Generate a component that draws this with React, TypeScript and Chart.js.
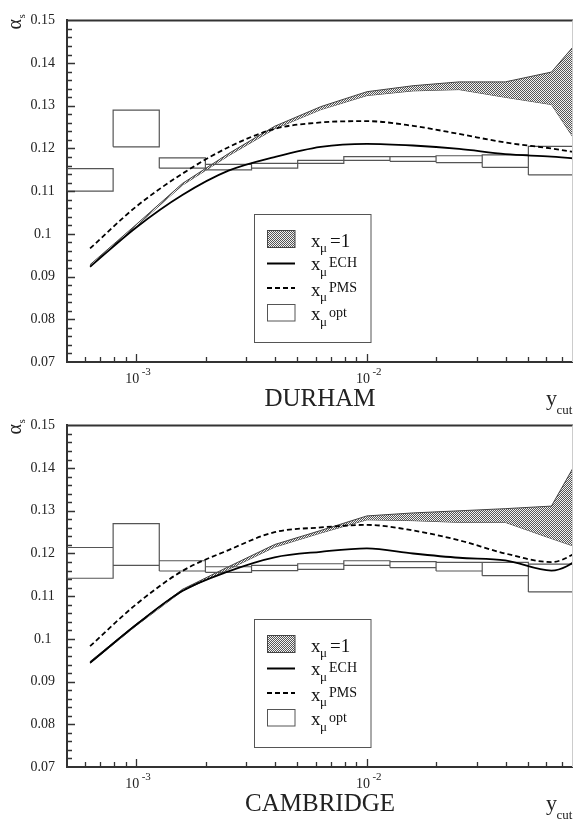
import React, { useEffect, useRef } from 'react';
import { Chart, registerables } from 'chart.js';

Chart.register(...registerables);

const FONT = '"Liberation Serif", "Times New Roman", Times, serif';

// y_cut sample points (10^-3.2 ... 10^-1.0)
const yCut = [6.31e-4, 1.0e-3, 1.585e-3, 2.512e-3, 3.981e-3, 6.31e-3, 1.0e-2, 1.585e-2, 2.512e-2, 3.981e-2, 6.31e-2, 1.0e-1];
// x_mu^opt bin edges
const optEdges = [5.012e-4, 7.943e-4, 1.259e-3, 1.995e-3, 3.162e-3, 5.012e-3, 7.943e-3, 1.259e-2, 1.995e-2, 3.162e-2, 5.012e-2, 7.943e-2];
// x-axis decade labels (exponents)
const xLabelExponents = [-3, -2];
const yMin = 0.07;
const yMax = 0.15;

// DURHAM
const durBandHigh = [0.0928, 0.1022, 0.1118, 0.1188, 0.1252, 0.1298, 0.1333, 0.1347, 0.1356, 0.1356, 0.1379, 0.1505];
const durBandLow = [0.0924, 0.1018, 0.1114, 0.1183, 0.1246, 0.1291, 0.1324, 0.1335, 0.1338, 0.1320, 0.1303, 0.1139];
const durECH = [0.0923, 0.1015, 0.1091, 0.1148, 0.1180, 0.1204, 0.1211, 0.1207, 0.1199, 0.1187, 0.1181, 0.1172];
const durPMS = [0.0966, 0.1064, 0.1141, 0.1203, 0.1246, 0.1261, 0.1264, 0.1253, 0.1234, 0.1214, 0.1200, 0.1183];
const durOptHigh = [0.1153, 0.1290, 0.1178, 0.1163, 0.1165, 0.1172, 0.1181, 0.1181, 0.1183, 0.1185, 0.1205];
const durOptLow = [0.1100, 0.1204, 0.1154, 0.1150, 0.1154, 0.1165, 0.1172, 0.1170, 0.1167, 0.1156, 0.1138];

// CAMBRIDGE
const camBandHigh = [0.0947, 0.1035, 0.1116, 0.1169, 0.1221, 0.1254, 0.1288, 0.1295, 0.1300, 0.1305, 0.1311, 0.1502];
const camBandLow = [0.0943, 0.1031, 0.1112, 0.1163, 0.1215, 0.1248, 0.1279, 0.1277, 0.1273, 0.1273, 0.1235, 0.1198];
const camECH = [0.0944, 0.1033, 0.1112, 0.1158, 0.1191, 0.1204, 0.1212, 0.1200, 0.1190, 0.1184, 0.1160, 0.1215];
const camPMS = [0.0983, 0.1081, 0.1159, 0.1208, 0.1250, 0.1261, 0.1267, 0.1254, 0.1231, 0.1200, 0.1180, 0.1235];
const camOptHigh = [0.1214, 0.1270, 0.1183, 0.1169, 0.1172, 0.1176, 0.1183, 0.1181, 0.1179, 0.1179, 0.1175];
const camOptLow = [0.1142, 0.1172, 0.1159, 0.1156, 0.1160, 0.1163, 0.1172, 0.1167, 0.1159, 0.1148, 0.1110];

const W = 576;
const H = 415;

type PanelProps = {
  name: string;
  top: number;
  bandHigh: number[];
  bandLow: number[];
  ech: number[];
  pms: number[];
  optHigh: number[];
  optLow: number[];
};

function pts(arr: number[]) {
  return yCut.map((x, i) => ({ x, y: arr[i] }));
}

function boxPoints(high: number[], low: number[]) {
  const out: any[] = [];
  for (let i = 0; i < high.length; i++) {
    const a = optEdges[i];
    const b = optEdges[i + 1];
    out.push({ x: a, y: low[i] }, { x: a, y: high[i] }, { x: b, y: high[i] }, { x: b, y: low[i] }, { x: a, y: low[i] }, { x: a, y: null });
  }
  return out;
}

function makePattern(ctx: CanvasRenderingContext2D) {
  const c = document.createElement('canvas');
  c.width = 2;
  c.height = 2;
  const g = c.getContext('2d')!;
  g.fillStyle = '#f2f2f2';
  g.fillRect(0, 0, 2, 2);
  g.fillStyle = '#555';
  g.fillRect(0, 0, 1, 1);
  g.fillRect(1, 1, 1, 1);
  return ctx.createPattern(c, 'repeat')!;
}

function makeDeco(name: string, pattern: CanvasPattern) {
  return {
    id: 'deco',
    afterDraw(chart: any) {
      const { ctx, chartArea: ca } = chart;
      const xs = chart.scales.x;
      const ys = chart.scales.y;
      ctx.save();
      // top frame line
      ctx.strokeStyle = '#333';
      ctx.lineWidth = 2;
      ctx.beginPath();
      ctx.moveTo(ca.left - 1, ca.top);
      ctx.lineTo(W, ca.top);
      ctx.stroke();
      // faint right edge
      ctx.strokeStyle = '#cccccc';
      ctx.lineWidth = 1;
      ctx.beginPath();
      ctx.moveTo(572.5, ca.top);
      ctx.lineTo(572.5, ca.bottom);
      ctx.stroke();
      // inward ticks
      ctx.strokeStyle = '#333';
      ctx.lineWidth = 1.3;
      ctx.beginPath();
      for (let k = 1; k < 40; k++) {
        const v = yMin + k * 0.002;
        const py = Math.round(ys.getPixelForValue(v)) + 0.5;
        const len = k % 5 === 0 ? 8 : 5;
        ctx.moveTo(ca.left, py);
        ctx.lineTo(ca.left + len, py);
      }
      for (let e = -4; e <= -1; e++) {
        for (let m = 1; m <= 9; m++) {
          const v = m * Math.pow(10, e);
          if (v <= xs.min * 1.001 || v >= xs.max) continue;
          const px = Math.round(xs.getPixelForValue(v)) + 0.5;
          const len = m === 1 ? 8 : 5;
          ctx.moveTo(px, ca.bottom);
          ctx.lineTo(px, ca.bottom - len);
        }
      }
      ctx.stroke();

      ctx.fillStyle = '#222';
      ctx.textAlign = 'left';
      ctx.textBaseline = 'alphabetic';
      // x labels 10^e
      for (const e of xLabelExponents) {
        const px = xs.getPixelForValue(Math.pow(10, e));
        ctx.font = `14px ${FONT}`;
        ctx.fillText('10', px - 11, 383);
        ctx.font = `11px ${FONT}`;
        ctx.fillText(String(e), px + 5.5, 375);
      }
      // y title alpha_s (rotated)
      ctx.save();
      ctx.translate(20.7, 29.5);
      ctx.rotate(-Math.PI / 2);
      ctx.font = `20px ${FONT}`;
      ctx.fillText('α', 0, 0);
      const aw = ctx.measureText('α').width;
      ctx.font = `11px ${FONT}`;
      ctx.fillText('s', aw + 0.5, 4.3);
      ctx.restore();
      // panel name
      ctx.font = `25px ${FONT}`;
      ctx.textAlign = 'center';
      ctx.fillText(name, 320, 406.3);
      ctx.textAlign = 'left';
      // y_cut
      ctx.font = `22px ${FONT}`;
      ctx.fillText('y', 546, 405);
      ctx.font = `13px ${FONT}`;
      ctx.fillText('cut', 556.5, 414);

      // legend
      const L = { l: 254.5, t: 214.5, r: 371, b: 342.5 };
      ctx.fillStyle = '#fff';
      ctx.fillRect(L.l, L.t, L.r - L.l, L.b - L.t);
      ctx.strokeStyle = '#555';
      ctx.lineWidth = 1;
      ctx.strokeRect(L.l, L.t, L.r - L.l, L.b - L.t);
      // swatches
      ctx.fillStyle = pattern;
      ctx.fillRect(267, 230.5, 28, 17);
      ctx.strokeStyle = '#444';
      ctx.strokeRect(267.5, 230.5, 27.5, 17);
      ctx.strokeStyle = '#000';
      ctx.lineWidth = 2;
      ctx.beginPath();
      ctx.moveTo(267, 263.5);
      ctx.lineTo(295, 263.5);
      ctx.stroke();
      ctx.setLineDash([5, 3]);
      ctx.beginPath();
      ctx.moveTo(267, 288);
      ctx.lineTo(295, 288);
      ctx.stroke();
      ctx.setLineDash([]);
      ctx.strokeStyle = '#555';
      ctx.lineWidth = 1;
      ctx.strokeRect(267.5, 304.5, 27.5, 16.5);
      // texts
      ctx.fillStyle = '#111';
      const rows: [number, string, boolean][] = [
        [246.7, '=1', false],
        [270, 'ECH', true],
        [295.7, 'PMS', true],
        [320, 'opt', true],
      ];
      for (const [base, txt, sup] of rows) {
        ctx.font = `19px ${FONT}`;
        ctx.fillText('x', 311, base);
        const xw = ctx.measureText('x').width;
        ctx.font = `13px ${FONT}`;
        ctx.fillText('μ', 311 + xw - 0.5, base + 5.5);
        if (sup) {
          ctx.font = `14px ${FONT}`;
          ctx.fillText(txt, 329, base - 3.5);
        } else {
          ctx.font = `19px ${FONT}`;
          ctx.fillText(txt, 330, base);
        }
      }
      ctx.restore();
    },
  };
}

function Panel(p: PanelProps) {
  const ref = useRef<HTMLCanvasElement | null>(null);
  useEffect(() => {
    const canvas = ref.current!;
    const ctx = canvas.getContext('2d')!;
    const pattern = makePattern(ctx);
    const chart = new Chart(canvas, {
      type: 'line',
      data: {
        datasets: [
          {
            label: 'ECH',
            data: pts(p.ech),
            borderColor: '#000',
            borderWidth: 1.8,
            pointRadius: 0,
            cubicInterpolationMode: 'monotone',
            fill: false,
          },
          {
            label: 'PMS',
            data: pts(p.pms),
            borderColor: '#000',
            borderWidth: 1.8,
            borderDash: [5, 3],
            pointRadius: 0,
            cubicInterpolationMode: 'monotone',
            fill: false,
          },
          {
            label: 'opt',
            data: boxPoints(p.optHigh, p.optLow),
            borderColor: '#555',
            borderWidth: 1.2,
            pointRadius: 0,
            tension: 0,
            spanGaps: false,
            fill: false,
          },
          {
            label: 'band high',
            data: pts(p.bandHigh),
            borderColor: '#444',
            borderWidth: 1,
            pointRadius: 0,
            tension: 0,
            fill: '+1',
            backgroundColor: pattern,
          },
          {
            label: 'band low',
            data: pts(p.bandLow),
            borderColor: '#444',
            borderWidth: 1,
            pointRadius: 0,
            tension: 0,
            fill: false,
          },
        ] as any,
      },
      options: {
        responsive: false,
        animation: false,
        devicePixelRatio: 1,
        layout: { padding: { top: 12, left: 0, right: 1.5, bottom: 0 } },
        plugins: { legend: { display: false }, tooltip: { enabled: false } },
        scales: {
          x: {
            type: 'logarithmic',
            min: Math.pow(10, -3.3),
            max: Math.pow(10, -1.1),
            afterFit: (s: any) => {
              s.height = H - 362;
            },
            ticks: { display: false },
            grid: { display: false, drawTicks: false },
            border: { display: true, color: '#333', width: 2 },
          },
          y: {
            type: 'linear',
            min: yMin,
            max: yMax,
            afterFit: (s: any) => {
              s.width = 67;
            },
            ticks: {
              stepSize: 0.01,
              callback: (v: any) => String(parseFloat(Number(v).toFixed(2))),
              font: { family: FONT, size: 14 },
              color: '#222',
              crossAlign: 'center',
              padding: 12,
            },
            grid: { display: false, drawTicks: false },
            border: { display: true, color: '#333', width: 2 },
          },
        },
      } as any,
      plugins: [makeDeco(p.name, pattern)],
    });
    return () => chart.destroy();
  }, []);
  return <canvas ref={ref} width={W} height={H} style={{ position: 'absolute', left: 0, top: p.top, width: W, height: H }} />;
}

export default function App() {
  return (
    <div style={{ position: 'absolute', left: 0, top: 0, width: 573, height: 820, overflow: 'hidden', background: '#fff' }}>
      <Panel name="DURHAM" top={0} bandHigh={durBandHigh} bandLow={durBandLow} ech={durECH} pms={durPMS} optHigh={durOptHigh} optLow={durOptLow} />
      <Panel name="CAMBRIDGE" top={405} bandHigh={camBandHigh} bandLow={camBandLow} ech={camECH} pms={camPMS} optHigh={camOptHigh} optLow={camOptLow} />
    </div>
  );
}
